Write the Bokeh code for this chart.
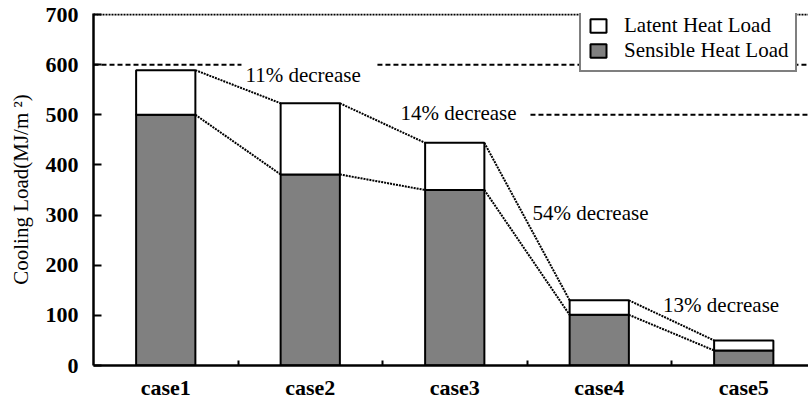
from bokeh.plotting import figure
from bokeh.models import (Range1d, FixedTicker, Legend, LegendItem, ColumnDataSource)
from bokeh.core.properties import value
from bokeh.embed import file_html
from bokeh.resources import INLINE

# ---- data ----
cases = ["case1", "case2", "case3", "case4", "case5"]
sensible = [500, 381, 350, 101, 30]
latent = [89, 142, 94, 29, 20]
y_ticks = [0, 100, 200, 300, 400, 500, 600, 700]
ann_text = ["11% decrease", "14% decrease", "54% decrease", "13% decrease"]
ann_x = [1.052, 2.125, 3.038, 3.942]
ann_y = [579, 503, 304, 121]
# reference (grid) line segments
ref_y = [600, 600, 500]
ref_x0 = [0.0, 1.965, 3.024]
ref_x1 = [1.024, 5.0, 5.0]

FONT = "Liberation Serif"
BAR_W = 0.41

xc = [i + 0.5 for i in range(len(cases))]
totals = [s + l for s, l in zip(sensible, latent)]

p = figure(width=808, height=402, output_backend="svg", toolbar_location=None,
           x_range=Range1d(0, 715 / 144.5), y_range=Range1d(0, 702),
           min_border_left=93, min_border_right=0, min_border_top=13,
           min_border_bottom=34)
p.outline_line_color = None
p.xgrid.visible = False
p.ygrid.visible = False
p.background_fill_color = "white"

# reference lines
p.segment(x0=[0], x1=[5], y0=[700], y1=[700], line_color="black",
          line_width=2, line_dash="2 1")
p.segment(x0=ref_x0, x1=ref_x1, y0=ref_y, y1=ref_y, line_color="black",
          line_width=2, line_dash="5 3")

# bars
src = ColumnDataSource(dict(x=xc, s=sensible, t=totals))
r_s = p.vbar(x="x", width=BAR_W, bottom=0, top="s", source=src,
             fill_color="#808080", line_color="black", line_width=2)
r_l = p.vbar(x="x", width=BAR_W, bottom="s", top="t", source=src,
             fill_color="white", line_color="black", line_width=2)

# connecting dotted lines
n = len(cases)
x0s = [xc[i] + BAR_W / 2 for i in range(n - 1)]
x1s = [xc[i + 1] - BAR_W / 2 for i in range(n - 1)]
p.segment(x0=x0s, x1=x1s, y0=totals[:-1], y1=totals[1:], line_color="black",
          line_width=2, line_dash="2 1")
p.segment(x0=x0s, x1=x1s, y0=sensible[:-1], y1=sensible[1:], line_color="black",
          line_width=2, line_dash="2 1")

# annotations
asrc = ColumnDataSource(dict(x=ann_x, y=ann_y, t=ann_text))
p.text(x="x", y="y", text="t", text_font=value(FONT), source=asrc,
       text_font_size="21px", text_baseline="middle", text_align="left",
       text_color="black")

# axes
xa = p.xaxis[0]
xa.ticker = FixedTicker(ticks=xc, minor_ticks=[1, 2, 3, 4])
xa.major_label_overrides = {x: c for x, c in zip(xc, cases)}
xa.major_tick_in = 0
xa.major_tick_out = 0
xa.minor_tick_in = 5
xa.minor_tick_out = 0
xa.minor_tick_line_width = 2
xa.axis_line_width = 2.5
xa.major_label_text_font = FONT
xa.major_label_text_font_style = "bold"
xa.major_label_text_font_size = "22px"
xa.major_label_text_color = "black"
xa.major_label_standoff = 9

ya = p.yaxis[0]
ya.ticker = FixedTicker(ticks=y_ticks)
ya.major_tick_in = 8
ya.major_tick_out = 0
ya.minor_tick_in = 0
ya.minor_tick_out = 0
ya.major_tick_line_width = 2
ya.axis_line_width = 2.5
ya.major_label_text_font = FONT
ya.major_label_text_font_style = "bold"
ya.major_label_text_font_size = "22px"
ya.major_label_text_color = "black"
ya.major_label_standoff = 15
ya.axis_label = "Cooling Load(MJ/m \u00b2)"
ya.axis_label_text_font = FONT
ya.axis_label_text_font_style = "normal"
ya.axis_label_text_font_size = "21px"
ya.axis_label_text_color = "black"
ya.axis_label_standoff = 10

# legend
legend = Legend(items=[LegendItem(label="Latent Heat Load", renderers=[r_l]),
                       LegendItem(label="Sensible Heat Load", renderers=[r_s])],
                location=(486, 293), padding=7, spacing=0, margin=0,
                glyph_width=20, glyph_height=17, label_standoff=16,
                label_text_font=FONT, label_text_font_size="21px",
                label_text_color="black",
                border_line_color="black", border_line_width=2,
                background_fill_color="white", background_fill_alpha=1.0)
p.add_layout(legend)

open("out.html", "w").write(file_html(p, INLINE))
